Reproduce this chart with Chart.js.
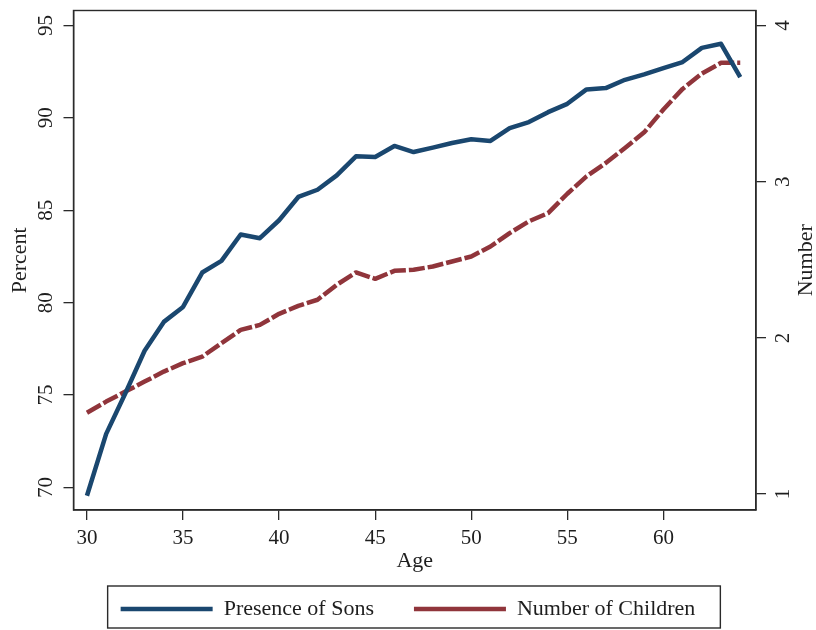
<!DOCTYPE html>
<html>
<head>
<meta charset="utf-8">
<script src="https://cdn.jsdelivr.net/npm/chart.js@4/dist/chart.umd.min.js"></script>
<style>
html,body{margin:0;padding:0;background:#fff;}
#wrap{width:816px;height:630px;position:relative;}
</style>
</head>
<body>
<div id="wrap"><canvas id="c" width="816" height="630"></canvas></div>
<script>
const ages = [30,31,32,33,34,35,36,37,38,39,40,41,42,43,44,45,46,47,48,49,50,51,52,53,54,55,56,57,58,59,60,61,62,63,64];
const presenceOfSons = [69.55,72.9,75.1,77.4,78.96,79.77,81.63,82.26,83.69,83.49,84.46,85.72,86.11,86.89,87.92,87.88,88.48,88.15,88.39,88.64,88.84,88.75,89.45,89.77,90.31,90.76,91.54,91.61,92.06,92.35,92.69,93.02,93.79,94.01,92.21];
const numberOfChildren = [1.521,1.592,1.656,1.720,1.784,1.838,1.880,1.966,2.051,2.083,2.154,2.205,2.244,2.340,2.419,2.378,2.429,2.436,2.457,2.489,2.521,2.585,2.671,2.746,2.799,2.923,3.034,3.120,3.216,3.316,3.462,3.594,3.692,3.761,3.761];
const xTicks = [30,35,40,45,50,55,60];
const leftTicks = [70,75,80,85,90,95];
const rightTicks = [1,2,3,4];
const seriesNames = ['Presence of Sons','Number of Children'];
const axisTitles = {x:'Age', left:'Percent', right:'Number'};

const FONT = "'Liberation Serif', 'Times New Roman', serif";
const TXT = '#1e1e1e';
const AX = '#2a2a2a';
const BLUE = '#1a476f';
const RED = '#90353b';

function noPad(s) { s.paddingTop = 0; s.paddingBottom = 0; s.paddingLeft = 0; s.paddingRight = 0; }

const framePlugin = {
  id: 'frame',
  afterDraw(chart) {
    const ctx = chart.ctx, a = chart.chartArea;
    ctx.save();
    ctx.strokeStyle = AX; ctx.lineWidth = 1.4;
    ctx.strokeRect(a.left, a.top, a.right - a.left, a.bottom - a.top);
    // right axis title (reads bottom-to-top)
    ctx.fillStyle = TXT;
    ctx.font = "22px " + FONT;
    ctx.textAlign = 'center'; ctx.textBaseline = 'middle';
    ctx.translate(806, (a.top + a.bottom) / 2);
    ctx.rotate(-Math.PI / 2);
    ctx.fillText(axisTitles.right, 0, 0);
    ctx.restore();
    // legend frame
    const lg = chart.legend;
    if (lg && lg.legendHitBoxes && lg.legendHitBoxes.length) {
      let minX = Infinity, maxX = -Infinity;
      lg.legendHitBoxes.forEach(h => { minX = Math.min(minX, h.left); maxX = Math.max(maxX, h.left + h.width); });
      ctx.save();
      ctx.strokeStyle = AX; ctx.lineWidth = 1.4;
      ctx.strokeRect(minX - 13, 586, (maxX - minX) + 13 + 25, 42);
      ctx.restore();
    }
  }
};

const chart = new Chart(document.getElementById('c'), {
  type: 'line',
  data: {
    datasets: [
      {
        label: seriesNames[0],
        data: ages.map((a, i) => ({x: a, y: presenceOfSons[i]})),
        yAxisID: 'y',
        borderColor: BLUE, backgroundColor: BLUE,
        borderWidth: 4.5, pointRadius: 0, tension: 0,
        borderJoinStyle: 'round', borderCapStyle: 'butt',
        pointStyle: 'line'
      },
      {
        label: seriesNames[1],
        data: ages.map((a, i) => ({x: a, y: numberOfChildren[i]})),
        yAxisID: 'y1',
        borderColor: RED, backgroundColor: RED,
        borderWidth: 4.5, pointRadius: 0, tension: 0,
        borderDash: [16, 3], borderJoinStyle: 'round', borderCapStyle: 'butt',
        pointStyle: 'line'
      }
    ]
  },
  options: {
    responsive: false,
    devicePixelRatio: 1,
    animation: false,
    events: [],
    layout: {padding: {top: 10.5, left: 0, right: 0, bottom: 0}},
    plugins: {
      tooltip: {enabled: false},
      legend: {
        position: 'bottom',
        labels: {
          usePointStyle: true,
          pointStyleWidth: 92,
          boxHeight: 21,
          padding: 40,
          color: TXT,
          font: {family: FONT, size: 22}
        }
      }
    },
    scales: {
      x: {
        type: 'linear',
        min: 29.3, max: 64.82,
        afterBuildTicks: s => { s.ticks = xTicks.map(v => ({value: v})); },
        afterFit: s => { s.height = 48; noPad(s); },
        grid: {display: true, drawOnChartArea: false, drawTicks: true, tickLength: 10, color: AX, lineWidth: 1.3},
        border: {display: true, color: AX, width: 1.4},
        ticks: {color: TXT, font: {family: FONT, size: 21}, padding: 6, maxRotation: 0, minRotation: 0},
        title: {display: true, text: axisTitles.x, color: TXT, font: {family: FONT, size: 22}, padding: {top: 0, bottom: -16.6}}
      },
      y: {
        type: 'linear', position: 'left',
        min: 68.78, max: 95.81,
        afterBuildTicks: s => { s.ticks = leftTicks.map(v => ({value: v})); },
        afterFit: s => { s.width = 73.5; noPad(s); },
        grid: {display: true, drawOnChartArea: false, drawTicks: true, tickLength: 10, color: AX, lineWidth: 1.3},
        border: {display: true, color: AX, width: 1.4},
        ticks: {color: TXT, font: {family: FONT, size: 21}, padding: 7, minRotation: 90, maxRotation: 90, crossAlign: 'center'},
        title: {display: true, text: axisTitles.left, color: TXT, font: {family: FONT, size: 22}, padding: {top: 7, bottom: 0}}
      },
      y1: {
        type: 'linear', position: 'right',
        min: 0.898, max: 4.096,
        afterBuildTicks: s => { s.ticks = rightTicks.map(v => ({value: v})); },
        afterFit: s => { s.width = 60; noPad(s); },
        grid: {display: true, drawOnChartArea: false, drawTicks: true, tickLength: 10, color: AX, lineWidth: 1.3},
        border: {display: true, color: AX, width: 1.4},
        ticks: {color: TXT, font: {family: FONT, size: 21}, padding: 12, minRotation: 90, maxRotation: 90, crossAlign: 'center'},
        title: {display: false}
      }
    }
  },
  plugins: [framePlugin]
});
</script>
</body>
</html>
